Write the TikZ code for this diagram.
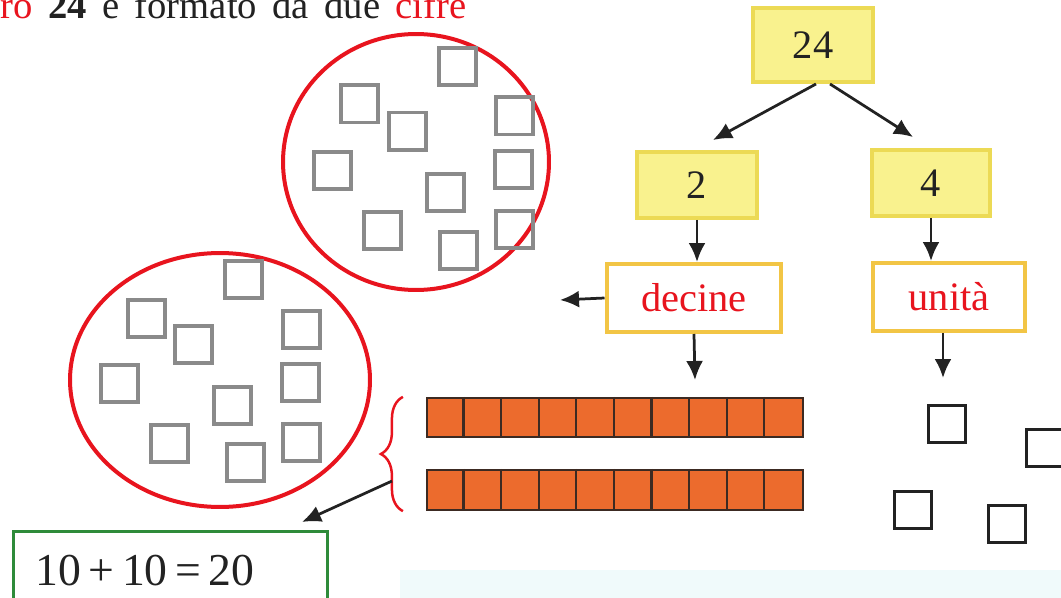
\documentclass[tikz,border=0pt]{standalone}
\usepackage{fontspec}
\setmainfont{Liberation Serif}
\usepackage{tikz}
\usetikzlibrary{arrows.meta,positioning,calc,decorations.pathreplacing}
\definecolor{boxyellow}{RGB}{249, 242, 142}
\definecolor{boxedge}{RGB}{236, 218, 85}
\definecolor{goldedge}{RGB}{242, 197, 69}
\definecolor{inkred}{RGB}{232, 20, 30}
\definecolor{squaregray}{RGB}{138, 138, 138}
\definecolor{rodorange}{RGB}{236, 107, 45}
\definecolor{rodedge}{RGB}{60, 42, 34}
\definecolor{sumgreen}{RGB}{46, 139, 58}
\definecolor{inkdark}{RGB}{34, 34, 34}
\definecolor{paleblue}{RGB}{240, 250, 251}

\begin{document}
\begin{tikzpicture}[x=0.02cm, y=-0.02cm,
  digitbox/.style={draw=boxedge, fill=boxyellow, line width=0.08cm, minimum width=2.4cm, minimum height=1.32cm, font=\fontsize{23}{27}\selectfont, text=inkdark},
  wordbox/.style={draw=goldedge, fill=white, line width=0.08cm, minimum height=1.36cm, font=\fontsize{23}{27}\selectfont, text=inkred},
  ring/.style={draw=inkred, line width=0.08cm},
  graysq/.style={draw=squaregray, line width=0.08cm},
  darksq/.style={draw=inkdark, line width=0.06cm},
  rod/.style={draw=rodedge, fill=rodorange, line width=0.045cm, minimum width=7.52cm, minimum height=0.78cm, inner sep=0pt},
  link/.style={-{Latex[length=0.38cm,width=0.34cm]}, draw=inkdark, line width=0.055cm}
]
\useasboundingbox (0,0) rectangle (1061,598);
\clip (0,0) rectangle (1061,598);

% Page background strip
\fill[paleblue] (400,570) rectangle (1061,598);

% Heading
\node[anchor=base west, inner sep=0pt, font=\fontsize{22}{26}\selectfont, text=inkdark] (title) at (0,19) {\spaceskip=0.4em\textcolor{inkred}{ro} \textbf{24} e formato da due \textcolor{inkred}{cifre}};

% Number tree
\node[digitbox, minimum height=1.48cm] (n24) at (813,45) {24};
\node[digitbox] (two) at (697,185) {2};
\node[digitbox, minimum width=2.36cm] (four) at (931,183) {4};
\node[wordbox, minimum width=3.5cm] (decine) at (694,298) {decine};
\node[wordbox, minimum width=3.04cm] (unita) at (949,297) {unità};

% Rods of ten
\node[rod] (tens1) at (615,417.5) {};
\node[rod, minimum height=0.8cm] (tens2) at (615,490) {};
\foreach \i in {1,...,9} {
  \draw[rodedge, line width=0.045cm] ($(tens1.north west)+(\i*37.6,0)$) -- ($(tens1.south west)+(\i*37.6,0)$);
  \draw[rodedge, line width=0.045cm] ($(tens2.north west)+(\i*37.6,0)$) -- ($(tens2.south west)+(\i*37.6,0)$);
}
\draw[inkred, line width=0.05cm, decorate, decoration={brace, amplitude=0.44cm}] ([xshift=-0.46cm]tens2.south west) -- ([xshift=-0.46cm]tens1.north west);

% Sum
\node[draw=sumgreen, line width=0.06cm, minimum width=6.26cm, minimum height=1.56cm, text width=5.4cm, align=left, inner xsep=0.44cm, font=\fontsize{26}{30}\selectfont, text=inkdark, anchor=north west] (sum) at (12,530) {10\,+\,10\,=\,20};

% Sets of ten
\draw[ring] (416,162) ellipse [x radius=2.66cm, y radius=2.56cm];
\draw[ring] (220,380) ellipse [x radius=3cm, y radius=2.54cm];
\foreach \cx/\cy in {457/67, 359/104, 407/131, 514/116, 332/170, 513/169, 445/192, 382/230, 458/250, 514/229,
                     243/279, 146/318, 193/344, 301/329, 119/383, 300/382, 232/405, 169/443, 245/462, 301/442}
  \draw[graysq] (\cx-18.5,\cy-18.5) rectangle ++(37,37);

% Units
\foreach \cx/\cy in {947/424, 1045/448, 913/510, 1007/524}
  \draw[darksq] (\cx-18.5,\cy-18.5) rectangle ++(37,37);

% Free ends
\coordinate (leftend) at (560,300);
\coordinate (rodtop) at (695,380);
\coordinate (unittop) at (943,378);
\coordinate (bracefoot) at (392,481);
\coordinate (sumtop) at (302,522);

% Connections
\draw[link] ([xshift=0.06cm]n24.south) -- ([shift={(0.32cm,0.2cm)}]two.north);
\draw[link] ([xshift=0.34cm]n24.south) -- ([shift={(-0.36cm,0.22cm)}]four.north);
\draw[link] (two.south) -- (two.south |- decine.north);
\draw[link] (four.south) -- (four.south |- unita.north);
\draw[link] (decine.west) -- (leftend);
\draw[link] (decine.south) -- (rodtop);
\draw[link] (unita.south -| unittop) -- (unittop);
\draw[link] (bracefoot) -- (sumtop);

\end{tikzpicture}
\end{document}
